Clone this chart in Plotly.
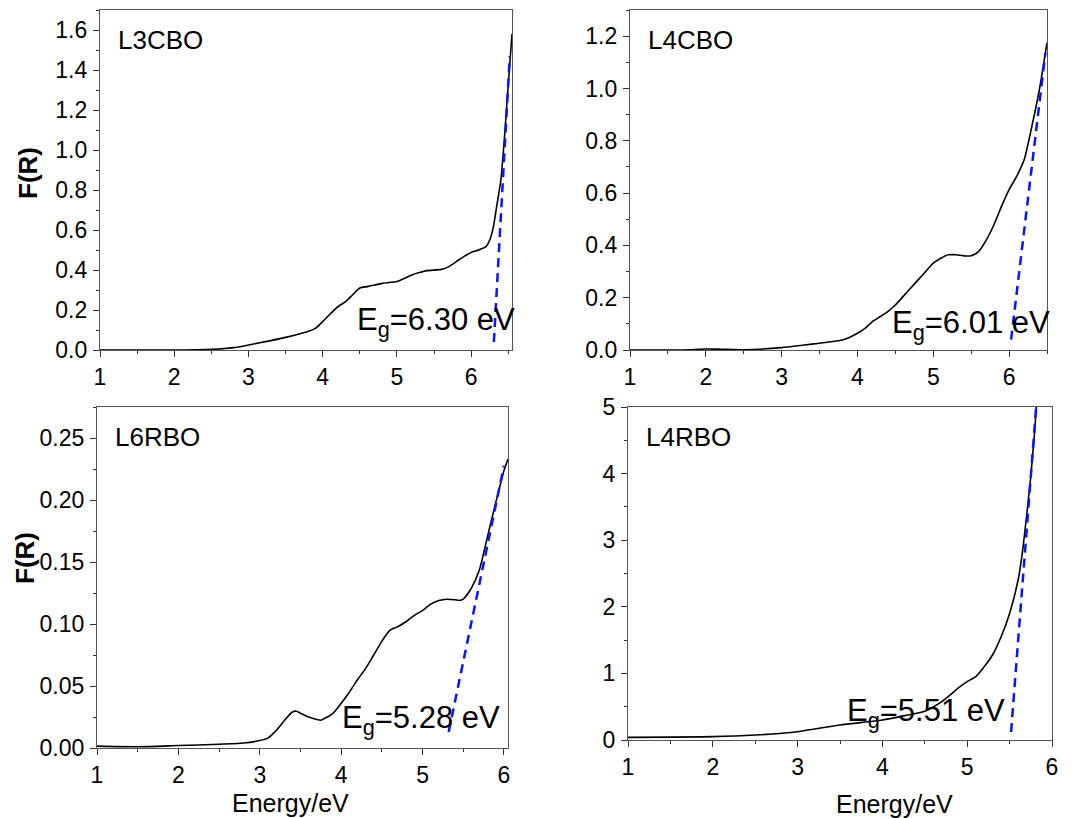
import plotly.graph_objects as go

W, H = 1088, 818

# ---- data: Kubelka-Munk F(R) vs photon energy ----
l3cbo_e = [1.0, 1.5, 2.0, 2.3, 2.5, 2.8, 3.0, 3.3, 3.5, 3.8, 3.9, 4.0, 4.1, 4.2, 4.3, 4.4,
           4.5, 4.6, 4.7, 4.8, 5.0, 5.1, 5.2, 5.3, 5.4, 5.6, 5.7, 5.8, 5.9, 6.0, 6.1, 6.2,
           6.25, 6.3, 6.35, 6.4, 6.45, 6.5, 6.55]
l3cbo_f = [0.0, 0.0, 0.0, 0.001, 0.003, 0.012, 0.025, 0.047, 0.063, 0.092, 0.108, 0.142,
           0.18, 0.215, 0.24, 0.275, 0.31, 0.317, 0.325, 0.333, 0.342, 0.358, 0.375, 0.387,
           0.397, 0.403, 0.417, 0.442, 0.467, 0.488, 0.5, 0.517, 0.55, 0.617, 0.733, 0.85,
           1.07, 1.33, 1.58]

l4cbo_e = [1.0, 1.5, 1.8, 2.0, 2.2, 2.5, 3.0, 3.3, 3.5, 3.8, 3.9, 4.0, 4.1, 4.2, 4.3, 4.4,
           4.5, 4.6, 4.7, 4.8, 4.9, 5.0, 5.1, 5.2, 5.3, 5.4, 5.5, 5.6, 5.7, 5.8, 5.9, 6.0,
           6.1, 6.2, 6.3, 6.4, 6.5]
l4cbo_f = [0.0, 0.0, 0.001, 0.004, 0.003, 0.001, 0.009, 0.019, 0.026, 0.038, 0.049, 0.064,
           0.083, 0.109, 0.128, 0.147, 0.172, 0.204, 0.236, 0.268, 0.3, 0.332, 0.351, 0.364,
           0.364, 0.36, 0.36, 0.377, 0.421, 0.479, 0.549, 0.613, 0.664, 0.728, 0.855, 0.996,
           1.175]

l6rbo_e = [1.0, 1.5, 2.0, 2.5, 2.8, 3.0, 3.1, 3.2, 3.3, 3.4, 3.45, 3.5, 3.6, 3.7, 3.75, 3.8,
           3.9, 4.0, 4.1, 4.2, 4.3, 4.4, 4.5, 4.6, 4.7, 4.8, 4.9, 5.0, 5.1, 5.2, 5.3, 5.4,
           5.45, 5.5, 5.6, 5.7, 5.8, 5.9, 6.0, 6.05]
l6rbo_f = [0.0015, 0.001, 0.002, 0.003, 0.004, 0.006, 0.008, 0.014, 0.022, 0.029, 0.0297,
           0.028, 0.025, 0.023, 0.0224, 0.024, 0.028, 0.036, 0.045, 0.055, 0.064, 0.075,
           0.086, 0.095, 0.098, 0.102, 0.107, 0.111, 0.116, 0.119, 0.120, 0.1195, 0.119,
           0.120, 0.129, 0.144, 0.171, 0.198, 0.2236, 0.233]

l4rbo_e = [1.0, 2.0, 2.5, 3.0, 3.5, 4.0, 4.3, 4.5, 4.7, 4.8, 4.9, 5.0, 5.1, 5.2, 5.3, 5.4,
           5.5, 5.6, 5.65, 5.7, 5.75, 5.8, 5.82]
l4rbo_f = [0.04, 0.05, 0.075, 0.125, 0.225, 0.30, 0.376, 0.43, 0.576, 0.676, 0.787, 0.877,
           0.95, 1.10, 1.28, 1.55, 1.90, 2.40, 2.81, 3.36, 3.96, 4.71, 5.1]

# band-gap values and the F(R) span of each linear extrapolation
samples = ["L3CBO", "L4CBO", "L6RBO", "L4RBO"]
gap_ev = [6.30, 6.01, 5.28, 5.51]
fit_top_e = [6.52, 6.48, 6.00, 5.815]
fit_top_f = [1.47, 1.137, 0.2276, 5.03]
fit_low_f = [0.04, 0.04, 0.013, 0.12]

curves = [(l3cbo_e, l3cbo_f), (l4cbo_e, l4cbo_f), (l6rbo_e, l6rbo_f), (l4rbo_e, l4rbo_f)]

# axis ranges and tick steps per panel
x_ranges = [[1, 6.55], [1, 6.5], [1, 6.05], [1, 6.0]]
y_ranges = [[0, 1.7], [0, 1.3], [0, 0.275], [0, 5.0]]
y_dtick = [0.2, 0.2, 0.05, 1]
y_fmt = [".1f", ".1f", ".2f", "d"]

# panel frames in pixels: (left, right, top, bottom)
frames = [(100, 512, 10, 350), (630, 1047, 10, 350), (97, 508, 407, 748), (628, 1052, 407, 740)]

FONT = "Liberation Sans, Arial, sans-serif"


def px(x):
    return x / W


def py(y):
    return 1 - y / H


fig = go.Figure()
layout = dict(
    width=W, height=H, margin=dict(l=0, r=0, t=0, b=0, autoexpand=False),
    paper_bgcolor="white", plot_bgcolor="white", showlegend=False,
    font=dict(family=FONT, size=24, color="black"),
)

annotations = []
for i in range(4):
    n = "" if i == 0 else str(i + 1)
    xa, ya = "x" + n, "y" + n
    e, f = curves[i]
    fig.add_trace(go.Scatter(x=e, y=f, mode="lines", xaxis=xa, yaxis=ya,
                             line=dict(color="black", width=1.6, shape="spline", smoothing=0.6)))
    # tangent line: F = slope * (E - Eg)
    slope = fit_top_f[i] / (fit_top_e[i] - gap_ev[i])
    fe = [gap_ev[i] + fit_low_f[i] / slope, fit_top_e[i]]
    ff = [fit_low_f[i], fit_top_f[i]]
    fig.add_trace(go.Scatter(x=fe, y=ff, mode="lines", xaxis=xa, yaxis=ya,
                             line=dict(color="#0a14ff", width=2.5, dash="9px,6px")))

    l, r, t, b = frames[i]
    axis_common = dict(
        showline=True, linecolor="#555555", linewidth=1.3, mirror=True, automargin=False,
        showgrid=False, zeroline=False, ticks="outside", ticklen=6, tickwidth=1.2,
        tickcolor="#333333",
    )
    layout["xaxis" + n] = dict(
        axis_common, domain=[px(l), px(r)], anchor=ya, range=x_ranges[i],
        tick0=1, dtick=1, ticklabelstandoff=0,
        tickfont=dict(size=23, family=FONT, color="black"),
        minor=dict(ticks="outside", dtick=0.5, ticklen=3, tickcolor="#333333"),
    )
    layout["yaxis" + n] = dict(
        axis_common, domain=[py(b), py(t)], anchor=xa, range=y_ranges[i],
        tick0=0, dtick=y_dtick[i], tickformat=y_fmt[i], ticklabelstandoff=1,
        tickfont=dict(size=23, family=FONT, color="black"),
        minor=dict(ticks="outside", dtick=y_dtick[i] / 2, ticklen=3, tickcolor="#333333"),
    )

    # sample name in the upper-left corner
    annotations.append(dict(xref="paper", yref="paper", x=px(l + 16), y=py(t + 30),
                            xanchor="left", yanchor="middle", showarrow=False,
                            text=samples[i], font=dict(size=26, family=FONT)))

# band-gap labels
gap_pos = [(355, 322), (890, 325), (340, 720), (845, 713)]
for i in range(4):
    gx, gy = gap_pos[i]
    annotations.append(dict(xref="paper", yref="paper", x=px(gx), y=py(gy),
                            xanchor="left", yanchor="middle", showarrow=False,
                            text="E<sub>g</sub>=%.2f eV" % gap_ev[i],
                            font=dict(size=31, family=FONT)))

# y-axis titles
for cx, cy in ((28, 173), (25, 558)):
    annotations.append(dict(xref="paper", yref="paper", x=px(cx), y=py(cy),
                            xanchor="center", yanchor="middle", showarrow=False,
                            textangle=-90, text="<b>F(R)</b>",
                            font=dict(size=26, family=FONT)))

# x-axis titles
for cx, cy in ((290, 803), (894, 804)):
    annotations.append(dict(xref="paper", yref="paper", x=px(cx), y=py(cy),
                            xanchor="center", yanchor="middle", showarrow=False,
                            text="Energy/eV", font=dict(size=25, family=FONT)))

layout["annotations"] = annotations
fig.update_layout(**layout)
# page body without its default margin so the figure fills the window exactly
fig.write_html("out.html", post_script="document.body.style.margin='0px';")
